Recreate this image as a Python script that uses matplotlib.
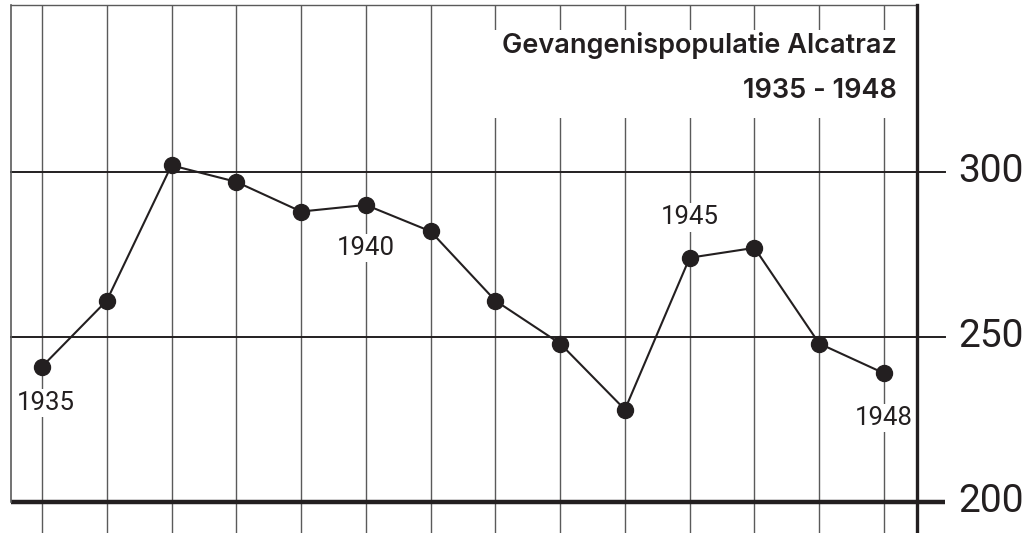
import numpy as np
import matplotlib.pyplot as plt

# Alcatraz prison population
years = np.arange(1935, 1949)
population = [241, 261, 302, 297, 288, 290, 282, 261, 248, 228, 274, 277, 248, 239]
ytick_vals = [200, 250, 300]
labelled = {1935: (3, -26), 1940: (0, -31), 1945: (0, 29), 1948: (0, -32)}   # offsets in pt

title = "Gevangenispopulatie Alcatraz"
subtitle = "1935 - 1948"

ink = "#231f20"
grid = "#5a5a5a"
numfont = ["Roboto", "DejaVu Sans"]

fig = plt.figure(figsize=(10.28, 5.33), dpi=100)
ax = fig.add_axes([0, 0, 1, 1])
ax.set_xlim(1934.352, 1950.223)
ax.set_ylim(190.6, 352.1)
ax.axis("off")

top = 350.6
left = 1934.52
right = 1948.51
hend = 1948.94

# vertical year lines
ax.vlines(years, 185, top, color=grid, lw=1.0, zorder=1)
# frame
ax.plot([left, right], [top, top], color=grid, lw=1.0, zorder=1)
ax.plot([left, left], [200, top], color=grid, lw=1.2, zorder=6)
ax.plot([right, right], [185, top], color=ink, lw=2.4, zorder=3)
# horizontal value lines
for v in ytick_vals[1:]:
    ax.plot([left, hend], [v, v], color=ink, lw=1.4, zorder=2)
ax.plot([left, hend], [200, 200], color=ink, lw=3.2, zorder=3, solid_capstyle="butt")
for v in ytick_vals:
    ax.text(hend + 0.2, v, str(v), ha="left", va="center", fontsize=28,
            color=ink, family=numfont)

# white block behind title
ax.add_patch(plt.Rectangle((1941.7, 316.3), 6.4, 26.7, color="white", zorder=2, lw=0))
ax.text(1948.2, 338.2, title, ha="right", va="center", fontsize=19.5,
        color=ink, family=["Inter", "DejaVu Sans"], fontweight="semibold", zorder=4)
ax.text(1948.2, 324.4, subtitle, ha="right", va="center", fontsize=19.5,
        color=ink, family=["Inter", "DejaVu Sans"], fontweight="semibold", zorder=4)

# the series
ax.plot(years, population, color=ink, lw=1.5, marker="o", markersize=11.5, zorder=5)

for yr, off in labelled.items():
    ax.annotate(str(yr), (yr, population[yr - 1935]), xytext=off,
                textcoords="offset points", ha="center", va="center",
                fontsize=18.5, color=ink, family=numfont,
                bbox=dict(facecolor="white", edgecolor="none", pad=1.5), zorder=4)

fig.savefig("out.png", dpi=100)
